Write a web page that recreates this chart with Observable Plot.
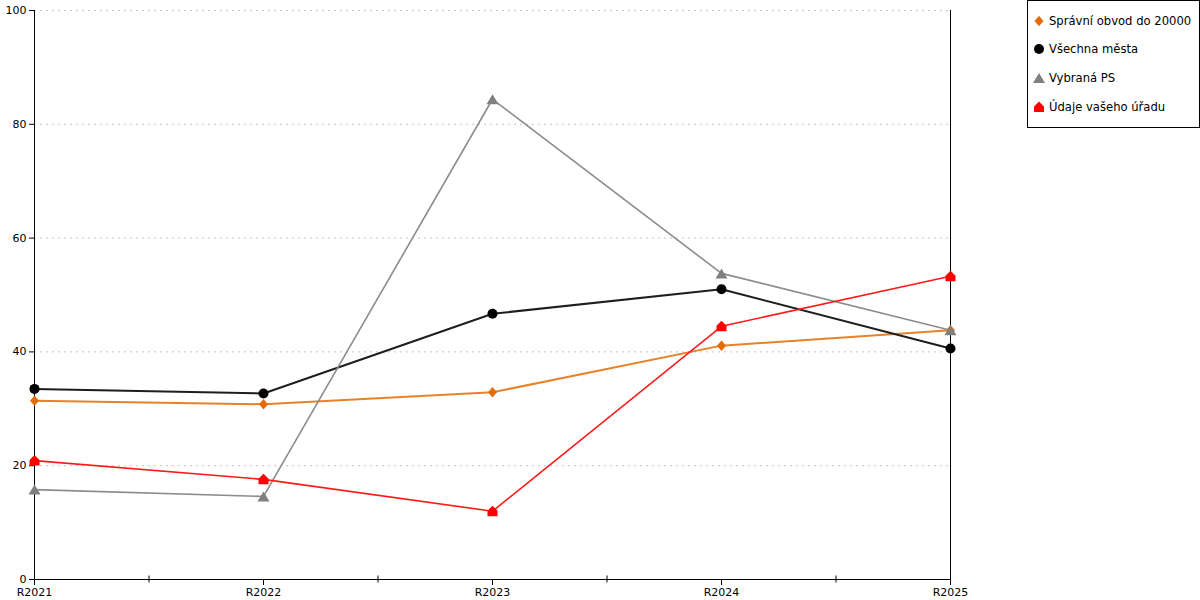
<!DOCTYPE html>
<html>
<head>
<meta charset="utf-8">
<script src="https://cdn.jsdelivr.net/npm/d3@7"></script>
<script src="https://cdn.jsdelivr.net/npm/@observablehq/plot@0.6"></script>
<style>
  html, body { margin: 0; padding: 0; background: #fff; }
  #wrap { position: relative; width: 1200px; height: 600px; font-family: "DejaVu Sans", sans-serif; }
  #legend { position: absolute; left: 1027px; top: 0px; width: 171px; height: 126px; border: 1px solid #000; background: #fff; }
  .item { position: absolute; left: 0; height: 16px; display: flex; align-items: center; font-size: 11.6px; color: #000; white-space: nowrap; }
  .item svg { margin-left: 4px; margin-right: 3px; }
</style>
</head>
<body>
<div id="wrap"><div id="chart"></div><div id="legend"></div></div>
<script>
const categories = ["R2021", "R2022", "R2023", "R2024", "R2025"];
const seriesNames = ["Správní obvod do 20000", "Všechna města", "Vybraná PS", "Údaje vašeho úřadu"];
const spravni = [31.4, 30.8, 32.9, 41.1, 43.8];
const vsechna = [33.5, 32.7, 46.7, 51.0, 40.6];
const vybrana = [15.8, 14.6, 84.4, 53.8, 43.8];
const udaje = [20.9, 17.6, 12.0, 44.5, 53.3];
const yTicks = [0, 20, 40, 60, 80, 100];
const gridTicks = [20, 40, 60, 80, 100];

// custom symbols (r = sqrt(size/pi))
const diamond = { draw(ctx, size) { const r = Math.sqrt(size / Math.PI); const w = r * 0.9, h = r * 1.05;
  ctx.moveTo(0, -h); ctx.lineTo(w, 0); ctx.lineTo(0, h); ctx.lineTo(-w, 0); ctx.closePath(); } };
const circle = { draw(ctx, size) { const r = Math.sqrt(size / Math.PI); ctx.moveTo(r, 0); ctx.arc(0, 0, r, 0, 2 * Math.PI); } };
const triangle = { draw(ctx, size) { const r = Math.sqrt(size / Math.PI); const w = r * 1.2, h = r * 1.0;
  ctx.moveTo(0, -h); ctx.lineTo(w, h); ctx.lineTo(-w, h); ctx.closePath(); } };
const house = { draw(ctx, size) { const r = Math.sqrt(size / Math.PI); const w = r * 1.0;
  ctx.moveTo(0, -r * 1.1); ctx.lineTo(w, -r * 0.1); ctx.lineTo(w, r * 1.0); ctx.lineTo(-w, r * 1.0); ctx.lineTo(-w, -r * 0.1); ctx.closePath(); } };

const styles = [
  { name: seriesNames[0], values: spravni, line: "#e8812a", fill: "#e36c09", symbol: diamond, r: 5, sw: 2 },
  { name: seriesNames[1], values: vsechna, line: "#1e1e1e", fill: "#000000", symbol: circle, r: 5, sw: 2 },
  { name: seriesNames[2], values: vybrana, line: "#8c8c8c", fill: "#808080", symbol: triangle, r: 5, sw: 1.6 },
  { name: seriesNames[3], values: udaje, line: "#ff1a1a", fill: "#ff0000", symbol: house, r: 5, sw: 1.6 }
];

const table = styles.flatMap(s => s.values.map((v, i) => ({ series: s.name, i, v })));
const mids = categories.slice(0, -1).map((_, i) => i + 0.5);

const marks = [
  Plot.gridY(gridTicks, { stroke: "#c4c4c4", strokeOpacity: 1, strokeDasharray: "2,4" }),
  Plot.axisY(yTicks, { tickSize: 5, tickPadding: 3, fontSize: 11, color: "#000", stroke: "#000", strokeOpacity: 1, label: null }),
  Plot.axisX(d3.range(categories.length), { tickSize: 6, tickPadding: 3, fontSize: 11, tickFormat: i => categories[i], stroke: "#000", strokeOpacity: 1, label: null }),
  Plot.ruleX(mids, { x: d => d, y1: 0, y2: 0, insetTop: -3.5, insetBottom: -3.5, stroke: "#000" }),
  Plot.ruleX([0, categories.length - 1], { x: d => d, y1: 0, y2: 100, stroke: "#000", strokeWidth: 1 }),
  Plot.ruleY([0], { x1: 0, x2: categories.length - 1, stroke: "#000" })
];
for (const s of styles) {
  const d = table.filter(t => t.series === s.name);
  marks.push(Plot.line(d, { x: "i", y: "v", stroke: s.line, strokeWidth: s.sw }));
}
for (const s of styles) {
  const d = table.filter(t => t.series === s.name);
  marks.push(Plot.dot(d, { x: "i", y: "v", symbol: () => s.symbol, fill: s.fill, stroke: "none", r: s.r }));
}

const chart = Plot.plot({
  width: 1200,
  height: 600,
  marginLeft: 34,
  marginRight: 250,
  marginTop: 10,
  marginBottom: 21,
  style: { fontFamily: "DejaVu Sans, sans-serif", fontSize: "11px", color: "#000", background: "#fff" },
  x: { type: "linear", domain: [0, categories.length - 1], axis: null },
  y: { domain: [0, 100], axis: null },
  symbol: { type: "identity" },
  marks
});
document.getElementById("chart").appendChild(chart);

// legend
const legend = document.getElementById("legend");
const centers = [20, 48, 77, 106];
styles.forEach((s, k) => {
  const item = document.createElement("div");
  item.className = "item";
  item.style.top = (centers[k] - 8) + "px";
  const sz = Math.PI * s.r * s.r;
  const p = d3.path(); s.symbol.draw(p, sz);
  item.innerHTML = `<svg width="14" height="14" viewBox="-7 -7 14 14"><path d="${p.toString()}" fill="${s.fill}"/></svg><span>${s.name}</span>`;
  legend.appendChild(item);
});
</script>
</body>
</html>
